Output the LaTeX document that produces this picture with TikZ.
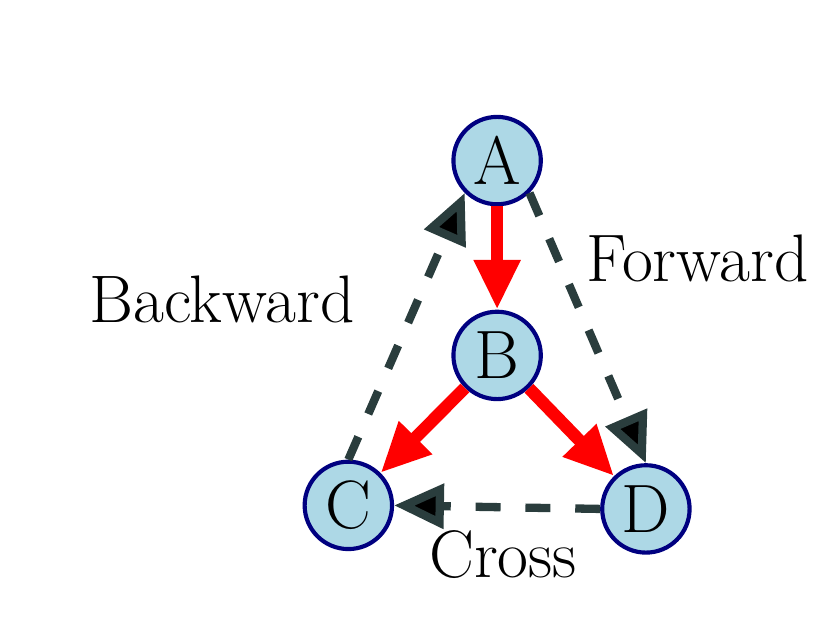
\documentclass[tikz,border=0pt]{standalone}
\usepackage{tikz}
\usetikzlibrary{arrows.meta, positioning}
\definecolor{edgegray}{HTML}{2A3D3D}
\definecolor{nodeblue}{HTML}{ADD8E6}

\begin{document}
\begin{tikzpicture}[
    vertex/.style={circle, draw=blue!50!black, fill=nodeblue, line width=1pt,
                   minimum size=0.74cm, inner sep=0pt, font=\fontsize{16.5}{19}\selectfont},
    treeedge/.style={red, line width=3pt, -{Triangle[length=12pt,width=10.5pt]}},
    otheredge/.style={edgegray, line width=2pt, dash pattern=on 6pt off 6pt,
                      -{Triangle[length=12pt,width=10.5pt,fill=black,line join=miter]}},
    edgelabel/.style={font=\fontsize{16.2}{19}\selectfont}
  ]
  \useasboundingbox (0,0) rectangle (7.08,-5.29);
  % Vertices
  \node[vertex] (A) at (4.21,-1.36) {A};
  \node[vertex] (B) at (4.21,-3.01) {B};
  \node[vertex] (C) at (2.95,-4.28) {C};
  \node[vertex] (D) at (5.47,-4.31) {D};
  % Tree edges
  \draw[treeedge] (A.south) -- (B.north);
  \draw[treeedge] (B) -- (C);
  \draw[treeedge] (B) -- (D);
  % Non-tree edges
  \draw[otheredge] (C.north) -- (A.south west);
  \draw[otheredge] (A.south east) -- (D.north);
  \draw[otheredge] (D.west) -- (C.east);
  % Labels
  \node[edgelabel] (back) at (1.88,-2.54) {Backward};
  \node[edgelabel] (fwd) at (5.91,-2.19) {Forward};
  \node[edgelabel] (cross) at (4.26,-4.70) {Cross};
\end{tikzpicture}
\end{document}
